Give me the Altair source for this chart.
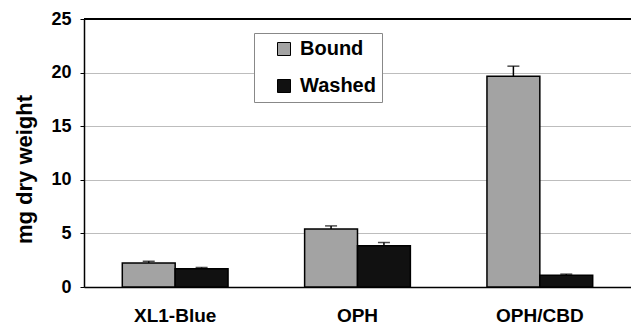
import altair as alt
import pandas as pd

categories = ["XL1-Blue", "OPH", "OPH/CBD"]
series = ["Bound", "Washed"]
bound = [2.25, 5.4, 19.65]
bound_err = [0.15, 0.3, 0.95]
washed = [1.7, 3.85, 1.1]
washed_err = [0.12, 0.3, 0.1]

rows = []
for i, c in enumerate(categories):
    rows.append({"cat": c, "series": "Bound", "value": bound[i], "top": bound[i] + bound_err[i]})
    rows.append({"cat": c, "series": "Washed", "value": washed[i], "top": washed[i] + washed_err[i]})
df = pd.DataFrame(rows)

FONT = "Liberation Sans"

x = alt.X("cat:N", sort=categories, title=None,
          scale=alt.Scale(paddingInner=0.42, paddingOuter=0.21),
          axis=alt.Axis(labelAngle=0, labelFontSize=19, labelFontWeight="bold", labelFont=FONT,
                        labelColor="black", ticks=False, domainColor="black", domainWidth=1.5,
                        labelPadding=19))
xoff = alt.XOffset("series:N", sort=series, scale=alt.Scale(paddingInner=0, paddingOuter=0))
yscale = alt.Scale(domain=[0, 25], padding=0, nice=False)

bars = alt.Chart(df).mark_bar(stroke="black", strokeWidth=1.5).encode(
    x=x, xOffset=xoff,
    y=alt.Y("value:Q", scale=yscale, title="mg dry weight",
            axis=alt.Axis(values=[0, 5, 10, 15, 20, 25], labelFontSize=18, labelFontWeight="bold",
                          labelFont=FONT, labelColor="black", titleFont=FONT, titleFontSize=22,
                          titleFontWeight="bold", titleColor="black", titlePadding=14,
                          titleY=150,
                          domainColor="black", domainWidth=1.5, tickColor="black", tickSize=4,
                          gridColor="#bdbdbd", gridWidth=1.2, labelPadding=9)),
    color=alt.Color("series:N", sort=series,
                    scale=alt.Scale(domain=series, range=["#a3a3a3", "#111111"]),
                    legend=alt.Legend(title=None, orient="none", legendX=170, legendY=14,
                                      symbolType="square", symbolSize=169, symbolStrokeColor="black",
                                      symbolStrokeWidth=1, labelFontSize=20, labelFontWeight="bold",
                                      labelFont=FONT, labelColor="black", rowPadding=17,
                                      padding=6, symbolOffset=14, strokeColor="#888888",
                                      fillColor="white", labelOffset=6,
                                      labelExpr="datum.label + '    '")),
)

err_rule = alt.Chart(df).mark_rule(color="black", strokeWidth=1.5).encode(
    x=x, xOffset=xoff, y=alt.Y("value:Q", scale=yscale), y2="top:Q")
err_cap = alt.Chart(df).mark_tick(color="black", thickness=1.5, size=12, orient="horizontal").encode(
    x=x, xOffset=xoff, y=alt.Y("top:Q", scale=yscale))

top_line = alt.Chart(df).mark_rule(color="black", strokeWidth=1.5).encode(y=alt.datum(25))

chart = alt.layer(bars, err_rule, err_cap, top_line).properties(
    width=547, height=268,
    autosize=alt.AutoSizeParams(type="none"),
    padding={"left": 76, "top": 11, "right": 0, "bottom": 39},
).configure_view(stroke=None).configure(background="white")

chart.save("out.html", embed_options={"renderer": "svg", "actions": False})
